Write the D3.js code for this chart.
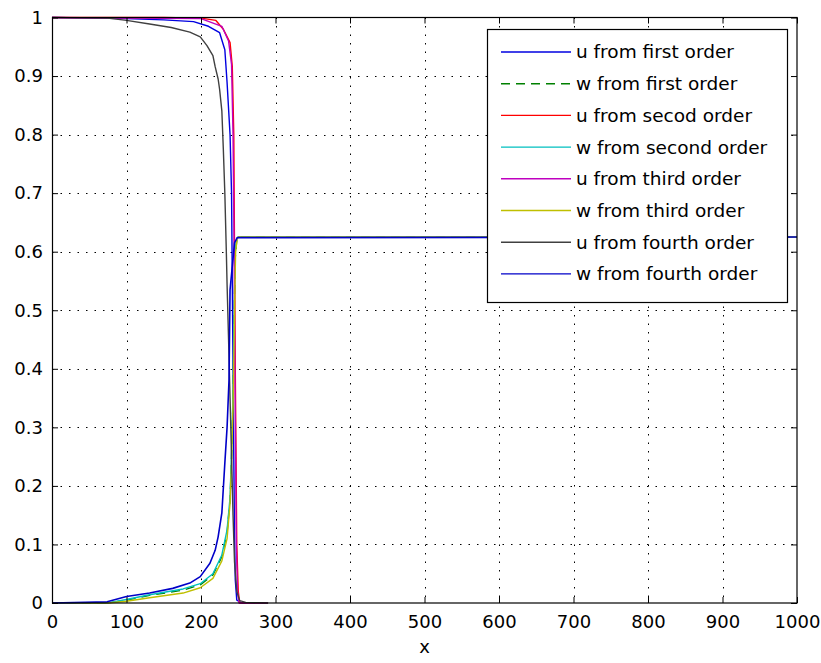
<!DOCTYPE html>
<html><head><meta charset="utf-8">
<script src="https://cdn.jsdelivr.net/npm/d3@7/dist/d3.min.js"></script>
<style>
body{margin:0;background:#fff;}
svg{display:block;}
</style></head>
<body>
<svg id="chart" width="821" height="663"></svg>
<script>
// ---- data ----
const xTicks = [0,100,200,300,400,500,600,700,800,900,1000];
const yTicks = [0,0.1,0.2,0.3,0.4,0.5,0.6,0.7,0.8,0.9,1];
const seriesNames = ["u from first order","w from first order","u from secod order","w from second order",
  "u from third order","w from third order","u from fourth order","w from fourth order"];
const seriesColors = ["#0000e0","#008000","#ff0000","#00bfbf","#bf00bf","#bfbf00","#404040","#0000c8"];
const seriesDash = [null,"9,6",null,null,null,null,null,null];

const uFirst = [[0,1],[100,0.998],[150,0.996],[190,0.993],[210,0.985],[225,0.974],[232,0.945],[235,0.889],
  [239,0.80],[241,0.70],[242,0.55],[243,0.40],[244,0.25],[245,0.12],[246,0.04],[248,0.005],[255,0],[290,0]];
const wFirst = [[0,0],[75,0],[100,0.005],[131,0.013],[176,0.022],[199,0.031],[216,0.048],[228,0.079],[235,0.12],
  [239,0.176],[241,0.25],[243,0.35],[244,0.45],[245,0.53],[246,0.59],[248,0.62],[250,0.625],[1000,0.625]];
const uSecond = [[0,1],[150,1],[200,0.999],[220,0.995],[230,0.98],[239,0.957],[242,0.916],[244,0.8],[245,0.6],
  [246,0.4],[247,0.25],[248,0.1],[250,0.02],[252,0],[290,0]];
const wSecond = [[0,0],[75,0],[100,0.006],[131,0.014],[176,0.024],[199,0.033],[216,0.05],[228,0.082],[235,0.125],
  [239,0.18],[241,0.26],[243,0.36],[244,0.46],[245,0.54],[246,0.6],[248,0.622],[250,0.625],[1000,0.625]];
const uThird = [[0,1],[200,0.998],[228,0.985],[237,0.96],[241,0.92],[243,0.8],[244.5,0.6],[245.5,0.4],
  [246.5,0.25],[247.5,0.1],[249,0.02],[251,0],[290,0]];
const wThird = [[0,0],[75,0],[100,0.003],[131,0.009],[176,0.017],[199,0.026],[216,0.042],[228,0.072],[235,0.11],
  [239,0.17],[241,0.24],[243,0.34],[244.5,0.45],[245.5,0.54],[246.5,0.6],[248.5,0.622],[250,0.625],[1000,0.625]];
const uFourth = [[0,1],[75,0.999],[100,0.995],[131,0.989],[160,0.983],[185,0.975],[199,0.967],[208,0.952],
  [216,0.935],[219,0.916],[223,0.895],[225,0.877],[228,0.84],[230,0.774],[232,0.70],[234,0.60],[235,0.544],
  [237,0.45],[239,0.35],[241,0.25],[243,0.15],[245,0.07],[248,0.02],[252,0.004],[260,0.001],[290,0]];
const wFourth = [[0,0],[74,0.002],[100,0.011],[131,0.017],[162,0.025],[185,0.034],[199,0.045],[212,0.068],
  [219,0.09],[223,0.113],[228,0.154],[232,0.239],[235,0.30],[237.6,0.381],[239,0.535],[245,0.615],
  [248.6,0.624],[1000,0.625]];
const allSeries = [uFirst,wFirst,uSecond,wSecond,uThird,wThird,uFourth,wFourth];

// ---- layout ----
const svg = d3.select("#chart");
const L = 52, T = 17.5, W = 745, H = 585.5;
const x = d3.scaleLinear().domain([0,1000]).range([L, L+W]);
const y = d3.scaleLinear().domain([0,1]).range([T+H, T]);
const font = "'DejaVu Sans', sans-serif";

svg.append("rect").attr("x",0).attr("y",0).attr("width",821).attr("height",663).attr("fill","#fff");

// grid
const grid = svg.append("g").attr("stroke","#000").attr("stroke-width",1).attr("stroke-dasharray","1.5,7");
grid.selectAll("line.gx").data(xTicks.slice(1,-1)).join("line")
  .attr("x1",d=>Math.round(x(d))+0.5).attr("x2",d=>Math.round(x(d))+0.5).attr("y1",T).attr("y2",T+H);
grid.selectAll("line.gy").data(yTicks.slice(1,-1)).join("line")
  .attr("y1",d=>Math.round(y(d))+0.5).attr("y2",d=>Math.round(y(d))+0.5).attr("x1",L).attr("x2",L+W);

// series
const line = d3.line().x(d=>x(d[0])).y(d=>y(d[1]));
const plot = svg.append("g");
allSeries.forEach((s,i)=>{
  plot.append("path").attr("d",line(s)).attr("fill","none")
    .attr("stroke",seriesColors[i]).attr("stroke-width",i===7?1.6:1.4)
    .attr("stroke-linejoin","round")
    .attr("stroke-dasharray",seriesDash[i]);
});

// axes
function styleAxis(g){
  g.selectAll(".domain").remove();
  g.selectAll("line").attr("stroke","#000");
  g.selectAll("text").attr("font-family",font).attr("font-size","18px").attr("fill","#000");
}
svg.append("g").attr("transform",`translate(0,${T+H})`)
  .call(d3.axisBottom(x).tickValues(xTicks).tickSize(-6).tickPadding(12).tickFormat(d3.format("d"))).call(styleAxis);
svg.append("g").attr("transform",`translate(0,${T})`)
  .call(d3.axisTop(x).tickValues(xTicks).tickSize(-6).tickFormat("")).call(styleAxis);
svg.append("g").attr("transform",`translate(${L},0)`)
  .call(d3.axisLeft(y).tickValues(yTicks).tickSize(-6).tickPadding(9).tickFormat(d=>d===0||d===1?String(d):d3.format(".1f")(d))).call(styleAxis);
svg.append("g").attr("transform",`translate(${L+W},0)`)
  .call(d3.axisRight(y).tickValues(yTicks).tickSize(-6).tickFormat("")).call(styleAxis);

// border
svg.append("rect").attr("x",L+0.5).attr("y",T).attr("width",W-0.5).attr("height",H)
  .attr("fill","none").attr("stroke","#000").attr("stroke-width",1.2);

// x label
svg.append("text").attr("x",x(500)).attr("y",653).attr("text-anchor","middle")
  .attr("font-family",font).attr("font-size","18px").text("x");

// legend
const lg = svg.append("g");
lg.append("rect").attr("x",487.5).attr("y",29.5).attr("width",300).attr("height",273)
  .attr("fill","#fff").attr("stroke","#000").attr("stroke-width",1.2);
seriesNames.forEach((n,i)=>{
  const cy = 52 + i*31.7;
  lg.append("line").attr("x1",501).attr("x2",571).attr("y1",cy).attr("y2",cy)
    .attr("stroke",seriesColors[i]).attr("stroke-width",1.4).attr("stroke-dasharray",seriesDash[i]);
  lg.append("text").attr("x",576).attr("y",cy).attr("dy","0.35em")
    .attr("font-family",font).attr("font-size","18.5px").attr("fill","#000").text(n);
});
</script>
</body></html>
